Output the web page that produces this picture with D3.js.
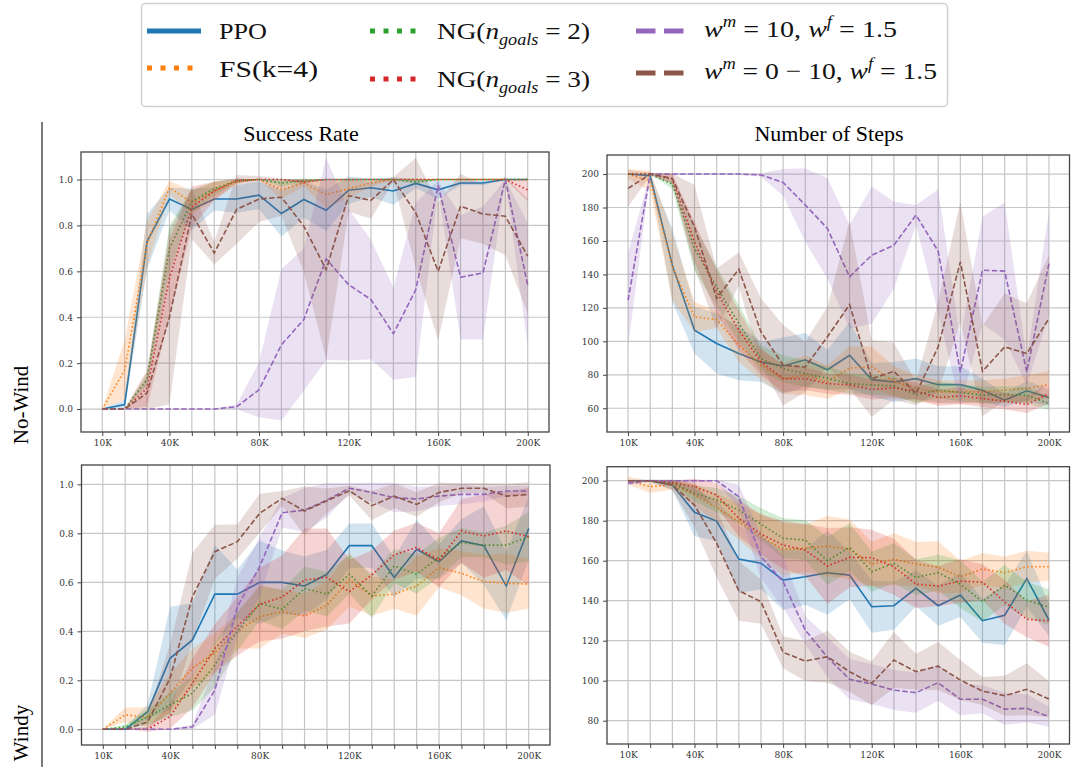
<!DOCTYPE html>
<html>
<head>
<meta charset="utf-8">
<script src="https://cdn.jsdelivr.net/npm/d3@7"></script>
<style>
  body { margin: 0; background: #fff; }
  svg { display: block; }
</style>
</head>
<body>
<script>
const W = 1071, H = 767;

// x positions (thousands of steps) and tick labels
const steps = d3.range(10, 201, 10);
const xLabelSteps = [10, 40, 80, 120, 160, 200];
const rateTicks = [0, 0.2, 0.4, 0.6, 0.8, 1.0];
const stepsTicksNoWind = [60, 80, 100, 120, 140, 160, 180, 200];
const stepsTicksWindy = [80, 100, 120, 140, 160, 180, 200];

const seriesKeys = ['ppo', 'fs', 'ng2', 'ng3', 'w10', 'w010'];
const colors = ['#1f77b4', '#ff7f0e', '#2ca02c', '#d62728', '#9467bd', '#8c564b'];

// ---- Success rate, No-Wind (mean / std)
const srNoWind_ppo = [0, 0.02, 0.73, 0.915, 0.87, 0.915, 0.915, 0.932, 0.852, 0.913, 0.866, 0.953, 0.964, 0.95, 0.983, 0.955, 0.985, 0.985, 1.0, 1.0];
const srNoWind_ppo_sd = [0, 0.02, 0.12, 0.05, 0.09, 0.05, 0.06, 0.06, 0.1, 0.08, 0.09, 0.06, 0.04, 0.06, 0.02, 0.04, 0.01, 0.01, 0, 0];
const srNoWind_fs = [0, 0.17, 0.72, 0.965, 0.9, 0.95, 0.99, 1.0, 0.956, 0.985, 0.935, 0.96, 0.985, 1.0, 1.0, 1.0, 1.0, 1.0, 1.0, 1.0];
const srNoWind_fs_sd = [0, 0.13, 0.1, 0.03, 0.05, 0.04, 0.01, 0, 0.04, 0.015, 0.06, 0.04, 0.015, 0, 0, 0, 0, 0, 0, 0];
const srNoWind_ng2 = [0, 0, 0.13, 0.7, 0.905, 0.96, 0.995, 1.0, 0.985, 0.995, 1.0, 1.0, 1.0, 1.0, 0.99, 1.0, 1.0, 1.0, 1.0, 1.0];
const srNoWind_ng2_sd = [0, 0, 0.03, 0.1, 0.05, 0.03, 0.01, 0, 0.015, 0.01, 0, 0, 0, 0, 0.01, 0, 0, 0, 0, 0];
const srNoWind_ng3 = [0, 0, 0.09, 0.57, 0.88, 0.95, 0.995, 1.0, 1.0, 0.99, 1.0, 1.0, 1.0, 1.0, 1.0, 1.0, 1.0, 1.0, 1.0, 0.955];
const srNoWind_ng3_sd = [0, 0, 0.08, 0.17, 0.09, 0.04, 0.01, 0, 0, 0.01, 0, 0, 0, 0, 0, 0, 0, 0, 0, 0.05];
const srNoWind_w10 = [0, 0, 0, 0, 0, 0, 0.01, 0.084, 0.28, 0.39, 0.654, 0.542, 0.477, 0.328, 0.52, 0.975, 0.574, 0.593, 1.0, 0.54];
const srNoWind_w10_sd = [0, 0, 0, 0, 0, 0, 0.01, 0.12, 0.33, 0.31, 0.44, 0.33, 0.26, 0.2, 0.38, 0.02, 0.27, 0.29, 0, 0.27];
const srNoWind_w010 = [0, 0, 0.07, 0.4, 0.85, 0.68, 0.87, 0.915, 0.923, 0.797, 0.607, 0.93, 0.909, 1.0, 0.855, 0.6, 0.884, 0.85, 0.84, 0.666];
const srNoWind_w010_sd = [0, 0, 0.07, 0.38, 0.11, 0.05, 0.15, 0.1, 0.08, 0.2, 0.39, 0.07, 0.08, 0.01, 0.24, 0.3, 0.14, 0.13, 0.17, 0.25];

// ---- Number of steps, No-Wind
const nsNoWind_ppo = [200, 199, 145.5, 106.7, 98.7, 92.7, 87.7, 85.3, 89, 83, 91.7, 77.1, 75.7, 77.7, 74.1, 74.1, 70.8, 64.8, 70.4, 66.4];
const nsNoWind_ppo_sd = [0, 1, 22, 14, 18, 16, 12, 17, 16, 12, 20, 10, 12, 12, 11, 11, 7, 4, 6, 5];
const nsNoWind_fs = [200, 196, 144.6, 114.6, 113, 97.7, 85.7, 77.7, 79.7, 75.7, 84, 84.7, 76.1, 71.7, 69.8, 69.8, 69.8, 70.8, 71.8, 74.2];
const nsNoWind_fs_sd = [3, 6, 20, 9, 5, 10, 9, 9, 12, 10, 13, 12, 9, 8, 7, 7, 7, 7, 8, 8];
const nsNoWind_ng2 = [200, 200, 194, 155.5, 132.6, 110.7, 89.7, 83.7, 80.7, 78, 74.7, 74, 73.3, 68.2, 70.8, 69.4, 67.8, 68.2, 67.8, 62.8];
const nsNoWind_ng2_sd = [0, 0, 3, 13, 12, 11, 8, 8, 8, 7, 6, 6, 6, 5, 5, 5, 5, 5, 5, 4];
const nsNoWind_ng3 = [200, 200, 197, 159.5, 129.6, 106.7, 87.7, 77.7, 77.7, 74.7, 74, 71.2, 72.2, 70.2, 66.4, 67.4, 65.8, 64.2, 62.2, 68.8];
const nsNoWind_ng3_sd = [0, 0, 3, 12, 13, 12, 8, 8, 7, 6, 6, 6, 6, 5, 5, 5, 5, 5, 5, 6];
const nsNoWind_w10 = [124.6, 200, 200, 200, 200, 200, 199.5, 195, 181.5, 167.5, 138.6, 151.5, 157.5, 175.5, 153.9, 81.7, 142.5, 142, 81.7, 146.5];
const nsNoWind_w10_sd = [28, 0.5, 0.5, 0.5, 0.5, 0.5, 1, 8, 22, 30, 31, 41, 26, 6, 37, 20, 32, 41, 8, 31];
const nsNoWind_w010 = [191.4, 200, 197.4, 168.5, 125.6, 143.2, 105.7, 85.7, 84.7, 102.7, 122, 77.7, 82.1, 68.8, 96.7, 147.5, 82.1, 96.7, 92.7, 113.6];
const nsNoWind_w010_sd = [11, 1, 3, 25, 18, 10, 20, 24, 15, 18, 50, 23, 17, 7, 27, 36, 27, 32, 30, 38];

// ---- Success rate, Windy
const srWindy_ppo = [0, 0, 0.072, 0.29, 0.365, 0.552, 0.552, 0.6, 0.6, 0.585, 0.633, 0.75, 0.75, 0.62, 0.735, 0.684, 0.769, 0.75, 0.585, 0.82];
const srWindy_ppo_sd = [0, 0.005, 0.03, 0.21, 0.15, 0.2, 0.1, 0.17, 0.13, 0.12, 0.1, 0.09, 0.09, 0.08, 0.12, 0.07, 0.09, 0.16, 0.14, 0.13];
const srWindy_fs = [0, 0.059, 0.05, 0.147, 0.25, 0.313, 0.4, 0.46, 0.48, 0.463, 0.507, 0.61, 0.544, 0.552, 0.585, 0.66, 0.637, 0.603, 0.596, 0.593];
const srWindy_fs_sd = [0, 0.03, 0.04, 0.08, 0.08, 0.08, 0.07, 0.13, 0.09, 0.09, 0.1, 0.11, 0.08, 0.06, 0.12, 0.08, 0.09, 0.11, 0.12, 0.1];
const srWindy_ng2 = [0, 0.01, 0.05, 0.1, 0.147, 0.263, 0.4, 0.514, 0.49, 0.575, 0.552, 0.633, 0.544, 0.667, 0.633, 0.702, 0.762, 0.752, 0.752, 0.786];
const srWindy_ng2_sd = [0, 0.01, 0.03, 0.05, 0.07, 0.09, 0.08, 0.07, 0.08, 0.09, 0.09, 0.08, 0.09, 0.07, 0.08, 0.08, 0.06, 0.05, 0.08, 0.1];
const srWindy_ng3 = [0, 0, 0, 0.052, 0.188, 0.33, 0.42, 0.51, 0.54, 0.61, 0.62, 0.562, 0.63, 0.712, 0.743, 0.69, 0.81, 0.789, 0.81, 0.786];
const srWindy_ng3_sd = [0, 0, 0.01, 0.05, 0.1, 0.1, 0.12, 0.15, 0.17, 0.21, 0.2, 0.13, 0.1, 0.1, 0.1, 0.11, 0.13, 0.17, 0.16, 0.2];
const srWindy_w10 = [0, 0, 0, 0, 0.01, 0.16, 0.5, 0.664, 0.884, 0.895, 0.936, 0.984, 0.967, 0.946, 0.94, 0.952, 0.959, 0.959, 0.973, 0.973];
const srWindy_w10_sd = [0, 0, 0, 0, 0.01, 0.1, 0.12, 0.12, 0.06, 0.09, 0.07, 0.02, 0.04, 0.06, 0.05, 0.04, 0.04, 0.03, 0.02, 0.02];
const srWindy_w010 = [0, 0, 0.03, 0.208, 0.541, 0.725, 0.766, 0.882, 0.943, 0.891, 0.933, 0.974, 0.913, 0.952, 0.918, 0.967, 0.984, 0.984, 0.952, 0.959];
const srWindy_w010_sd = [0, 0, 0.03, 0.14, 0.18, 0.11, 0.07, 0.08, 0.03, 0.1, 0.05, 0.02, 0.06, 0.05, 0.05, 0.04, 0.02, 0.02, 0.05, 0.05];

// ---- Number of steps, Windy
const nsWindy_ppo = [200, 200, 197.8, 184.2, 179.8, 160.8, 158.7, 150.3, 152, 154, 152.8, 137, 137.5, 146.2, 137.5, 142.8, 130, 132.7, 151, 130.3];
const nsWindy_ppo_sd = [0.5, 0.5, 2.5, 12, 10, 17, 13, 15, 14, 21, 12, 13, 12, 9, 10, 11, 11, 15, 14, 8];
const nsWindy_fs = [200, 197, 198, 192.8, 186.5, 179.5, 172, 165.7, 166.2, 167.3, 165.7, 158.3, 160.7, 158.3, 156.7, 152, 155.8, 154, 157, 157];
const nsWindy_fs_sd = [2, 3, 2.5, 5.5, 7, 9, 11, 13, 12, 15, 15, 11, 13, 11, 13, 8, 8, 8, 8, 7];
const nsWindy_ng2 = [200, 200, 199, 193.7, 190.3, 185.3, 178.3, 171.2, 170.3, 160, 166.7, 154.5, 158.7, 151.7, 154, 148.3, 139.5, 147.8, 140.3, 136.7];
const nsWindy_ng2_sd = [0, 0, 1.5, 4, 6, 7, 8, 10, 10, 12, 12, 10, 10, 9, 9, 12, 10, 10, 9, 9];
const nsWindy_ng3 = [200, 200, 199, 197, 192.8, 181.2, 173.3, 167.8, 165.3, 157.3, 161.7, 161.5, 157, 148.3, 147.3, 149.8, 149.2, 139.5, 130.7, 130];
const nsWindy_ng3_sd = [0, 0, 1, 4, 6, 9, 10, 12, 13, 19, 15, 14, 14, 12, 10, 11, 9, 11, 9, 13];
const nsWindy_w10 = [198.7, 200, 200, 200, 200, 192, 162, 149.5, 125.3, 111.7, 100.7, 98.3, 95.3, 94, 99, 90.7, 90.7, 85.8, 86.2, 82];
const nsWindy_w10_sd = [1, 0.5, 0.5, 0.5, 0.5, 6, 11, 13, 7, 10, 10, 10, 10, 10, 9, 8, 7, 8, 7, 5];
const nsWindy_w010 = [200, 200, 198, 187.8, 168.7, 145, 139.5, 114.2, 109.8, 112, 104.5, 98.7, 110.3, 104.5, 107.3, 100.3, 94.8, 92.5, 95.7, 90.8];
const nsWindy_w010_sd = [0.5, 0.5, 2.5, 11, 17, 15, 11, 8, 10, 13, 10, 11, 14, 9, 12, 10, 7, 10, 13, 9];

const serif = "'Liberation Serif', 'Times New Roman', serif";
const tickFont = "'DejaVu Serif', serif";

const svg = d3.select('body').append('svg')
    .attr('width', W).attr('height', H)
    .attr('viewBox', `0 0 ${W} ${H}`);

// line styles in the plots
const lineDash = ['none', '1.5,2.5', '1.5,2.5', '1.5,2.5', '5.5,2.4', '5.5,2.4'];

const panels = [
    { id: 'p1', x: [81, 549], y: [432, 152], dom: [-0.1, 1.12], ticks: rateTicks, fmt: d3.format('.1f'),
      mean: [srNoWind_ppo, srNoWind_fs, srNoWind_ng2, srNoWind_ng3, srNoWind_w10, srNoWind_w010],
      sd: [srNoWind_ppo_sd, srNoWind_fs_sd, srNoWind_ng2_sd, srNoWind_ng3_sd, srNoWind_w10_sd, srNoWind_w010_sd] },
    { id: 'p2', x: [607, 1070], y: [432, 155], dom: [45.8, 211.4], ticks: stepsTicksNoWind, fmt: d3.format('d'),
      mean: [nsNoWind_ppo, nsNoWind_fs, nsNoWind_ng2, nsNoWind_ng3, nsNoWind_w10, nsNoWind_w010],
      sd: [nsNoWind_ppo_sd, nsNoWind_fs_sd, nsNoWind_ng2_sd, nsNoWind_ng3_sd, nsNoWind_w10_sd, nsNoWind_w010_sd] },
    { id: 'p3', x: [81.5, 550], y: [745, 465], dom: [-0.064, 1.079], ticks: rateTicks, fmt: d3.format('.1f'),
      mean: [srWindy_ppo, srWindy_fs, srWindy_ng2, srWindy_ng3, srWindy_w10, srWindy_w010],
      sd: [srWindy_ppo_sd, srWindy_fs_sd, srWindy_ng2_sd, srWindy_ng3_sd, srWindy_w10_sd, srWindy_w010_sd] },
    { id: 'p4', x: [607, 1070], y: [744, 466.7], dom: [68.35, 207], ticks: stepsTicksWindy, fmt: d3.format('d'),
      mean: [nsWindy_ppo, nsWindy_fs, nsWindy_ng2, nsWindy_ng3, nsWindy_w10, nsWindy_w010],
      sd: [nsWindy_ppo_sd, nsWindy_fs_sd, nsWindy_ng2_sd, nsWindy_ng3_sd, nsWindy_w10_sd, nsWindy_w010_sd] }
];

panels.forEach(p => {
    const xScale = d3.scaleLinear().domain([0.5, 209.5]).range(p.x);
    const yScale = d3.scaleLinear().domain(p.dom).range(p.y);
    const left = p.x[0], right = Math.min(p.x[1], 1069.5), top = p.y[1], bottom = p.y[0];

    const g = svg.append('g').attr('class', p.id);

    g.append('clipPath').attr('id', 'clip-' + p.id)
        .append('rect').attr('x', left).attr('y', top)
        .attr('width', right - left).attr('height', bottom - top);

    // grid
    g.append('g').selectAll('line.vg').data(steps).enter().append('line')
        .attr('x1', d => xScale(d)).attr('x2', d => xScale(d))
        .attr('y1', top).attr('y2', bottom)
        .attr('stroke', '#c6c6c6').attr('stroke-width', 1.2);
    g.append('g').selectAll('line.hg').data(p.ticks).enter().append('line')
        .attr('x1', left).attr('x2', right)
        .attr('y1', d => yScale(d)).attr('y2', d => yScale(d))
        .attr('stroke', '#c6c6c6').attr('stroke-width', 1.2);

    // bands + lines
    const plot = g.append('g').attr('clip-path', `url(#clip-${p.id})`);
    seriesKeys.forEach((k, i) => {
        const rows = steps.map((s, j) => ({ s, m: p.mean[i][j], sd: p.sd[i][j] }));
        const area = d3.area()
            .x(d => xScale(d.s))
            .y0(d => yScale(d.m - d.sd))
            .y1(d => yScale(d.m + d.sd));
        const line = d3.line()
            .x(d => xScale(d.s))
            .y(d => yScale(d.m));
        plot.append('path').datum(rows)
            .attr('d', area)
            .attr('fill', colors[i]).attr('fill-opacity', 0.2);
        plot.append('path').datum(rows)
            .attr('d', line)
            .attr('fill', 'none')
            .attr('stroke', colors[i])
            .attr('stroke-width', 1.6)
            .attr('stroke-dasharray', lineDash[i]);
    });

    // frame
    g.append('rect').attr('x', left).attr('y', top)
        .attr('width', right - left).attr('height', bottom - top)
        .attr('fill', 'none').attr('stroke', '#444').attr('stroke-width', 1.3);

    // axes
    const xAxis = d3.axisBottom(xScale).tickValues(steps).tickSize(4).tickPadding(4)
        .tickFormat(d => xLabelSteps.includes(d) ? d + 'K' : '');
    const gx = g.append('g').attr('transform', `translate(0,${bottom})`).call(xAxis);
    const yAxis = d3.axisLeft(yScale).tickValues(p.ticks).tickSize(4).tickPadding(4).tickFormat(p.fmt);
    const gy = g.append('g').attr('transform', `translate(${left},0)`).call(yAxis);
    [gx, gy].forEach(a => {
        a.select('.domain').remove();
        a.selectAll('line').attr('stroke', '#444');
        a.selectAll('text').attr('font-family', tickFont).attr('font-size', 9).attr('fill', '#333');
    });
});

// subplot titles
svg.append('text').attr('x', 301).attr('y', 141).attr('text-anchor', 'middle')
    .attr('font-family', serif).attr('font-size', 22).text('Success Rate');
svg.append('text').attr('x', 829).attr('y', 141).attr('text-anchor', 'middle')
    .attr('font-family', serif).attr('font-size', 22).text('Number of Steps');

// row labels and divider
svg.append('line').attr('x1', 42).attr('x2', 42).attr('y1', 122).attr('y2', H)
    .attr('stroke', '#222').attr('stroke-width', 1.2);
[['No-Wind', 405], ['Windy', 733]].forEach(([t, cy]) => {
    svg.append('text').attr('transform', `translate(28,${cy}) rotate(-90)`)
        .attr('text-anchor', 'middle')
        .attr('font-family', serif).attr('font-size', 21).text(t);
});

// legend
const legend = svg.append('g').attr('class', 'legend');
legend.append('rect').attr('x', 141.5).attr('y', 3.5).attr('width', 806).attr('height', 103)
    .attr('rx', 4).attr('fill', '#fff').attr('stroke', '#cfcfcf').attr('stroke-width', 1.5);

const legendItems = [
    { hx: 147, hy: 31, tx: 219, ty: 39, len: 48, parts: [{ t: 'PPO' }] },
    { hx: 147, hy: 68, tx: 219, ty: 77, len: 99, parts: [{ t: 'FS(k=4)' }] },
    { hx: 370, hy: 31, tx: 437, ty: 39, len: 153, parts: [{ t: 'NG(' }, { t: 'n', i: 1 }, { t: 'goals', i: 1, sub: 1 }, { t: ' = 2)' }] },
    { hx: 370, hy: 79, tx: 437, ty: 87, len: 153, parts: [{ t: 'NG(' }, { t: 'n', i: 1 }, { t: 'goals', i: 1, sub: 1 }, { t: ' = 3)' }] },
    { hx: 636, hy: 31, tx: 704, ty: 37, len: 193, parts: [{ t: 'w', i: 1 }, { t: 'm', i: 1, sup: 1 }, { t: ' = 10, ' }, { t: 'w', i: 1 }, { t: 'f', i: 1, sup: 1 }, { t: ' = 1.5' }] },
    { hx: 636, hy: 73, tx: 704, ty: 79, len: 233, parts: [{ t: 'w', i: 1 }, { t: 'm', i: 1, sup: 1 }, { t: ' = 0 \u2212 10, ' }, { t: 'w', i: 1 }, { t: 'f', i: 1, sup: 1 }, { t: ' = 1.5' }] }
];
const legendDash = ['none', '5,8.5', '5,8.5', '5,8.5', '19.5,8.5', '19.5,8.5'];

legendItems.forEach((it, i) => {
    legend.append('line')
        .attr('x1', it.hx).attr('x2', it.hx + 54)
        .attr('y1', it.hy).attr('y2', it.hy)
        .attr('stroke', colors[i]).attr('stroke-width', 5)
        .attr('stroke-dasharray', legendDash[i]);
    const txt = legend.append('text').attr('x', it.tx).attr('y', it.ty)
        .attr('font-family', serif).attr('font-size', 24).attr('fill', '#111')
        .attr('textLength', it.len).attr('lengthAdjust', 'spacingAndGlyphs');
    let shift = 0;
    it.parts.forEach(pt => {
        const target = pt.sub ? 6 : pt.sup ? -10 : 0;
        txt.append('tspan').text(pt.t)
            .attr('dy', target - shift)
            .attr('font-style', pt.i ? 'italic' : 'normal')
            .attr('font-size', (pt.sub || pt.sup) ? 16 : 24);
        shift = target;
    });
});
</script>
</body>
</html>
